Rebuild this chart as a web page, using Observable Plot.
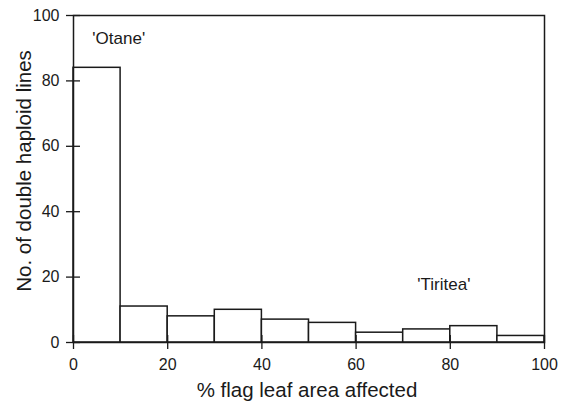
<!DOCTYPE html>
<html>
<head>
<meta charset="utf-8">
<script src="https://cdn.jsdelivr.net/npm/d3@7"></script>
<script src="https://cdn.jsdelivr.net/npm/@observablehq/plot@0.6"></script>
<style>
  body { margin: 0; background: #fff; }
  svg { font-family: "Liberation Sans", Arial, sans-serif; }
</style>
</head>
<body>
<div id="chart"></div>
<script>
const binStart = [0, 10, 20, 30, 40, 50, 60, 70, 80, 90];
const binEnd   = [10, 20, 30, 40, 50, 60, 70, 80, 90, 100];
const counts   = [84, 11, 8, 10, 7, 6, 3, 4, 5, 2];
const xTicks = [0, 20, 40, 60, 80, 100];
const yTicks = [0, 20, 40, 60, 80, 100];
const labels = [
  {text: "'Otane'", x: 4, y: 93},
  {text: "'Tiritea'", x: 73, y: 17.7}
];

const bins = binStart.map((s, i) => ({x1: s, x2: binEnd[i], y: counts[i]}));
const ink = "#1a1a1a";

const chart = Plot.plot({
  width: 573,
  height: 409,
  marginLeft: 73,
  marginRight: 29,
  marginTop: 15,
  marginBottom: 67,
  style: {fontSize: "16px", fontFamily: "'Liberation Sans', Arial, sans-serif", color: ink},
  x: {domain: [0, 100]},
  y: {domain: [0, 100]},
  marks: [
    Plot.rectY(bins, {x1: "x1", x2: "x2", y: "y", fill: "white", stroke: ink, strokeWidth: 1.5}),
    Plot.frame({stroke: ink, strokeWidth: 1.5}),
    Plot.axisX({ticks: xTicks, tickSize: 7, tickPadding: 9, fontSize: 16, label: null, strokeWidth: 1.3}),
    Plot.axisX({ticks: xTicks, tickSize: 7, dy: -7, text: null, label: null, strokeWidth: 1.3}),
    Plot.axisY({ticks: yTicks, tickSize: 7, tickPadding: 7, fontSize: 16, label: null, strokeWidth: 1.3}),
    Plot.axisY({ticks: yTicks, tickSize: 7, dx: 7, text: null, label: null, strokeWidth: 1.3}),
    Plot.text(labels, {x: "x", y: "y", text: "text", textAnchor: "start", fontSize: 17, fill: ink})
  ]
});

const svg = d3.select(chart);
svg.append("text")
  .attr("x", 307).attr("y", 397)
  .attr("text-anchor", "middle")
  .attr("font-size", 20.5)
  .attr("fill", ink)
  .text("% flag leaf area affected");
svg.append("text")
  .attr("transform", "translate(31,171) rotate(-90)")
  .attr("text-anchor", "middle")
  .attr("font-size", 20.5)
  .attr("fill", ink)
  .text("No. of double haploid lines");

document.getElementById("chart").appendChild(chart);
</script>
</body>
</html>
